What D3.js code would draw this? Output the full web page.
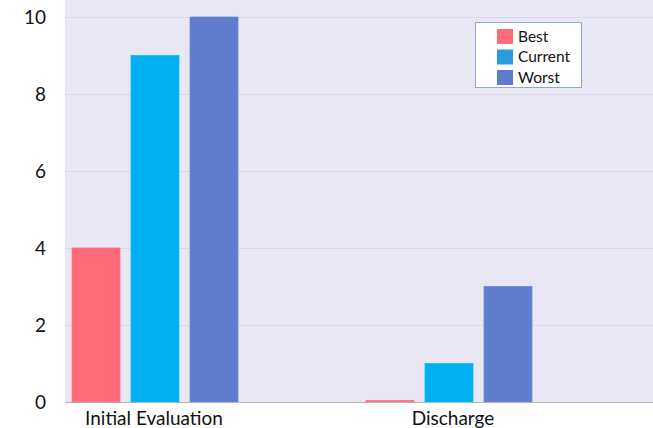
<!DOCTYPE html>
<html><head><meta charset="utf-8">
<script src="https://cdn.jsdelivr.net/npm/d3@7"></script>
<style>body{margin:0;background:#fff}svg{display:block}</style>
</head><body>
<svg id="c" width="653" height="428"></svg>
<script>
const categories = ["Initial Evaluation", "Discharge"];
const series = ["Best", "Current", "Worst"];
const best = [4, 0.04];
const current = [9, 1];
const worst = [10, 3];
const yTicks = [0, 2, 4, 6, 8, 10];
const colors = ["#FF6978", "#00B0F0", "#5F7BCC"];
const legendColors = ["#FF6978", "#2A9BE0", "#5F7BCC"];

(function(){
const values = [best, current, worst];
const svg = d3.select("#c");
const font = "Lato, 'Open Sans', sans-serif";
const mLeft = 65, mRight = 653, mTop = 0, mBottom = 402;

svg.append("rect").attr("x", mLeft).attr("y", mTop).attr("width", mRight-mLeft).attr("height", mBottom-mTop).attr("fill", "#E9E7F3");

const y = d3.scaleLinear().domain([0, 10]).range([mBottom, 17]);
const x0 = d3.scaleBand().domain(categories).range([mLeft, mRight]).padding(0);
const x1 = d3.scaleBand().domain(series).range([7, 173]).paddingInner(11/59).paddingOuter(0);

svg.append("g").selectAll("line").data(yTicks.filter(t=>t>0)).join("line")
  .attr("x1", mLeft).attr("x2", mRight).attr("y1", d=>Math.round(y(d))+0.5).attr("y2", d=>Math.round(y(d))+0.5)
  .attr("stroke", "#DAD8E6").attr("stroke-width", 1);

const yAxis = d3.axisLeft(y).tickValues(yTicks).tickSize(0).tickPadding(0).tickFormat(d3.format("d"));
const gy = svg.append("g").attr("transform", "translate(46,0)").call(yAxis);
gy.select(".domain").remove();
gy.selectAll("text").attr("font-family", font).attr("font-size", 19).attr("fill", "#111");

series.forEach((s, si) => {
  svg.append("g").selectAll("rect").data(categories).join("rect")
    .attr("x", c => x0(c) + x1(s))
    .attr("width", x1.bandwidth())
    .attr("y", (c, i) => y(values[si][i]))
    .attr("height", (c, i) => mBottom - y(values[si][i]))
    .attr("fill", colors[si])
    .attr("stroke", d3.color(colors[si]).brighter(0.3))
    .attr("stroke-width", 0.8);
});

svg.append("line").attr("x1", mLeft).attr("x2", mRight).attr("y1", mBottom+0.5).attr("y2", mBottom+0.5)
  .attr("stroke", "#B4B4B4").attr("stroke-width", 1);
const xAxis = d3.axisBottom(x0).tickSize(0).tickPadding(0);
const gx = svg.append("g").attr("transform", `translate(0,${mBottom})`).call(xAxis);
gx.select(".domain").remove();
const labelShift = [-1, 4];
gx.selectAll(".tick").attr("transform", (c, i) => `translate(${x0(c) + x1("Current") + x1.bandwidth()/2 + labelShift[i]},0)`);
gx.selectAll("text").attr("font-family", font).attr("font-size", 19).attr("fill", "#111").attr("dy", "0").attr("y", 23);

const lg = svg.append("g");
lg.append("rect").attr("x", 475.5).attr("y", 22.5).attr("width", 106).attr("height", 65)
  .attr("fill", "#fff").attr("stroke", "#8EA6E0").attr("stroke-width", 1);
series.forEach((s, i) => {
  lg.append("rect").attr("x", 497).attr("y", 29 + i*20.5).attr("width", 16).attr("height", 15).attr("fill", legendColors[i]);
  lg.append("text").attr("x", 518).attr("y", 36.5 + i*20.5).attr("dy", "0.35em")
    .attr("font-family", font).attr("font-size", 15.5).attr("fill", "#111").text(s);
});
})();
</script>
</body></html>
